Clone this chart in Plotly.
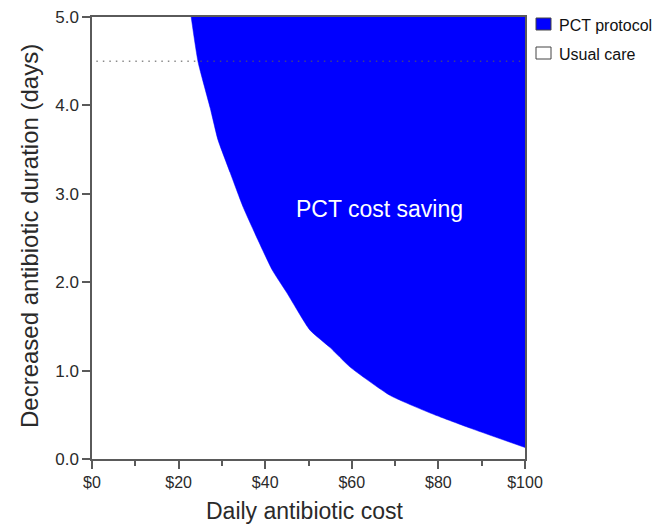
import plotly.graph_objects as go

# Boundary of the PCT cost-saving region
daily_cost = [22.9, 24.5, 27.3, 29.1, 31.9, 34.9, 38.3, 41.6, 45.0, 50.3, 55.0, 59.6, 68.8, 78.1, 87.3, 100.0]
break_even_days = [5.0, 4.49, 3.97, 3.61, 3.24, 2.85, 2.48, 2.14, 1.88, 1.46, 1.26, 1.04, 0.72, 0.52, 0.35, 0.13]

x_ticks = [0, 20, 40, 60, 80, 100]
x_tick_labels = ["$0", "$20", "$40", "$60", "$80", "$100"]
x_minor = [10, 30, 50, 70, 90]
y_ticks = [0, 1, 2, 3, 4, 5]
y_tick_labels = ["0.0", "1.0", "2.0", "3.0", "4.0", "5.0"]

usual_duration_line = 4.5
legend_labels = ["PCT protocol", "Usual care"]

BLUE = "#0000FF"
AXIS = "#5a5a5a"
TXT = "#2a2a2a"
FONT = "Liberation Sans, Arial, sans-serif"

L, R, T, B = 92, 525, 17, 459
PW, PH = R - L, B - T

def px(xp):
    return (xp - L) / PW

def py(yp):
    return (B - yp) / PH

fig = go.Figure()
# top edge of the region (y = 5), used as the fill partner
fig.add_trace(go.Scatter(
    x=[daily_cost[0], 100], y=[5.0, 5.0], mode="lines",
    line=dict(color=BLUE, width=0), showlegend=False, hoverinfo="skip"))
# break-even boundary, filled up to the top edge
fig.add_trace(go.Scatter(
    x=daily_cost, y=break_even_days, mode="lines", fill="tonexty",
    fillcolor=BLUE, line=dict(color=BLUE, width=0.5, shape="spline", smoothing=0.5),
    showlegend=False, hoverinfo="skip"))
fig.add_trace(go.Scatter(
    x=[1, 100], y=[usual_duration_line, usual_duration_line], mode="lines",
    line=dict(color="rgba(90,90,90,0.7)", width=1.5, dash="1.5px,5px"),
    showlegend=False, hoverinfo="skip"))

fig.add_annotation(x=66.3, y=2.83, xref="x", yref="y", text="PCT cost saving",
                   showarrow=False, font=dict(family=FONT, size=23, color="white"))

# axis titles
fig.add_annotation(x=px(304), y=py(511), xref="paper", yref="paper",
                   text="Daily antibiotic cost", showarrow=False,
                   xanchor="center", yanchor="middle",
                   font=dict(family=FONT, size=23, color=TXT))
fig.add_annotation(x=px(29), y=py(236), xref="paper", yref="paper",
                   text="Decreased antibiotic duration (days)", showarrow=False,
                   textangle=-90, xanchor="center", yanchor="middle",
                   font=dict(family=FONT, size=24, color=TXT))

# manual legend
leg_colors = [BLUE, "white"]
leg_tops = [18, 47]
for lab, col, top in zip(legend_labels, leg_colors, leg_tops):
    fig.add_shape(type="rect", xref="paper", yref="paper",
                  x0=px(536), x1=px(551), y0=py(top + 12), y1=py(top),
                  fillcolor=col, line=dict(color="#444444", width=1))
    fig.add_annotation(x=px(557), y=py(top + 7), xref="paper", yref="paper",
                       text=lab, showarrow=False, xanchor="left", yanchor="middle",
                       font=dict(family=FONT, size=16, color="#111111"))

fig.update_layout(
    width=672, height=526,
    margin=dict(l=L, r=672 - R, t=T, b=526 - B),
    paper_bgcolor="white", plot_bgcolor="white",
    showlegend=False,
    xaxis=dict(range=[0, 100], tickvals=x_ticks, ticktext=x_tick_labels,
               showgrid=False, zeroline=False, showline=True, linecolor=AXIS,
               linewidth=1.5, mirror=True, ticks="outside", ticklen=8,
               tickcolor=AXIS, tickwidth=1.5, automargin=False,
               minor=dict(tickvals=x_minor, ticks="outside",
                          ticklen=5, tickcolor=AXIS, tickwidth=1.5),
               tickfont=dict(family=FONT, size=16, color=TXT)),
    yaxis=dict(range=[0, 5], tickvals=y_ticks, ticktext=y_tick_labels,
               showgrid=False, zeroline=False, showline=True, linecolor=AXIS,
               linewidth=1.5, mirror=True, ticks="outside", ticklen=8,
               tickcolor=AXIS, tickwidth=1.5, automargin=False,
               tickfont=dict(family=FONT, size=17, color=TXT)),
)

fig.write_html("out.html")
